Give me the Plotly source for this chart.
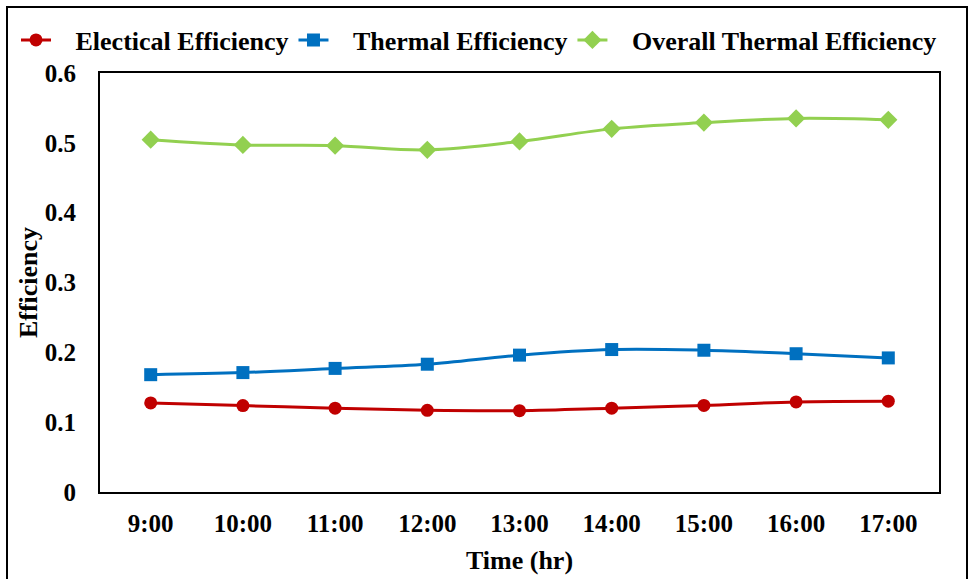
import plotly.graph_objects as go

times = ["9:00", "10:00", "11:00", "12:00", "13:00", "14:00", "15:00", "16:00", "17:00"]
electrical = [0.1275, 0.1237, 0.120, 0.117, 0.1165, 0.120, 0.124, 0.129, 0.130]
thermal = [0.168, 0.171, 0.177, 0.183, 0.196, 0.204, 0.203, 0.198, 0.192]
overall = [0.5045, 0.497, 0.496, 0.490, 0.502, 0.520, 0.529, 0.535, 0.533]
y_ticks = [0, 0.1, 0.2, 0.3, 0.4, 0.5, 0.6]
y_ticklabels = ["0", "0.1", "0.2", "0.3", "0.4", "0.5", "0.6"]
series_names = ["Electical Efficiency", "Thermal Efficiency", "Overall Thermal Efficiency"]

FONT = "Liberation Serif, Times New Roman, serif"
PAD = "&nbsp;" * 3

fig = go.Figure()
fig.add_trace(go.Scatter(x=times, y=electrical, name=PAD + "<b>%s</b>" % series_names[0],
                         mode="lines+markers", line=dict(color="#C00000", width=3, shape="spline"),
                         marker=dict(symbol="circle", size=13, color="#C00000")))
fig.add_trace(go.Scatter(x=times, y=thermal, name=PAD + "<b>%s</b>" % series_names[1],
                         mode="lines+markers", line=dict(color="#0070C0", width=3, shape="spline"),
                         marker=dict(symbol="square", size=13, color="#0070C0")))
fig.add_trace(go.Scatter(x=times, y=overall, name=PAD + "<b>%s</b>" % series_names[2],
                         mode="lines+markers", line=dict(color="#92D050", width=3, shape="spline"),
                         marker=dict(symbol="diamond", size=14, color="#92D050")))

L, R, T, B = 100, 30, 73, 87
W, H = 969, 579
pw, ph = W - L - R, H - T - B

def px(x):
    return (x - L) / pw

def py(y):
    return (H - B - y) / ph

fig.update_layout(
    width=W, height=H,
    margin=dict(l=L, r=R, t=T, b=B, autoexpand=False),
    paper_bgcolor="white", plot_bgcolor="white",
    font=dict(family=FONT, color="black"),
    showlegend=True,
    legend=dict(orientation="h", x=px(16), y=py(40), xanchor="left", yanchor="middle",
                font=dict(size=26, family=FONT, color="black"),
                itemwidth=30, tracegroupgap=0, bgcolor="rgba(0,0,0,0)"),
    xaxis=dict(showline=True, linecolor="black", linewidth=2, mirror=True, automargin=False,
               showgrid=False, ticks="", tickfont=dict(size=25, family=FONT),
               ticklabelstandoff=8,
               tickvals=times, ticktext=["<b>%s</b>" % t for t in times],
               title=dict(text="<b>Time (hr)</b>", font=dict(size=26, family=FONT), standoff=15)),
    yaxis=dict(showline=True, linecolor="black", linewidth=2, mirror=True, automargin=False,
               showgrid=False, ticks="", range=[0, 0.6],
               tickvals=y_ticks, ticktext=["<b>%s</b>" % t for t in y_ticklabels],
               tickfont=dict(size=25, family=FONT), ticklabelstandoff=17,
               title=dict(text="<b>Efficiency</b>", font=dict(size=26, family=FONT), standoff=0)),
)

fig.add_shape(type="rect", xref="paper", yref="paper",
              x0=px(7), x1=px(967), y0=py(640), y1=py(7),
              line=dict(color="black", width=2), fillcolor="rgba(0,0,0,0)", layer="below")

fig.write_html("out.html")
